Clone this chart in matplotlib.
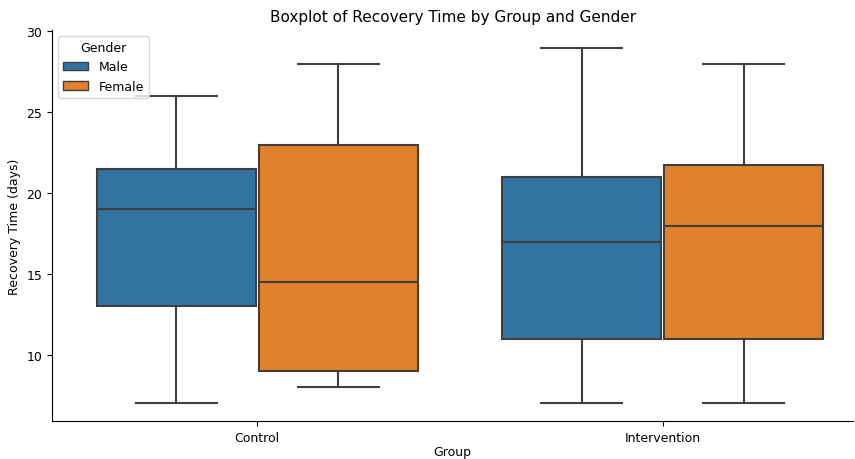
import matplotlib
matplotlib.use("Agg")
import matplotlib.pyplot as plt
from matplotlib.patches import Patch

groups = ["Control", "Intervention"]
genders = ["Male", "Female"]
colors = ["#3274a1", "#e1812c"]

# five-number summaries: low whisker, Q1, median, Q3, high whisker
male_stats = [(7, 13, 19, 21.5, 26), (7, 11, 17, 21, 29)]
female_stats = [(8, 9, 14.5, 23, 28), (7, 11, 18, 21.75, 28)]

fig = plt.figure(figsize=(8.55, 4.6), dpi=100)
ax = fig.add_axes([0.061, 0.082, 0.937, 0.851])

line_col = "#3f3f3f"
width = 0.4
for gi, stats in enumerate([male_stats, female_stats]):
    offset = -0.2 if gi == 0 else 0.2
    bxp_stats = []
    for lo, q1, med, q3, hi in stats:
        bxp_stats.append(dict(whislo=lo, q1=q1, med=med, q3=q3, whishi=hi, fliers=[]))
    positions = [i + offset for i in range(len(groups))]
    ax.bxp(bxp_stats, positions=positions, widths=width * 0.98, patch_artist=True,
           showfliers=False, manage_ticks=False,
           boxprops=dict(facecolor=colors[gi], edgecolor=line_col, linewidth=1.5),
           medianprops=dict(color=line_col, linewidth=1.5),
           whiskerprops=dict(color=line_col, linewidth=1.5),
           capprops=dict(color=line_col, linewidth=1.5),
           capwidths=width / 2)

ax.set_xlim(-0.506, 1.47)
ax.set_ylim(5.9, 30.1)
ax.set_xticks(range(len(groups)))
ax.set_xticklabels(groups)
ax.set_yticks([10, 15, 20, 25, 30])
ax.spines["top"].set_visible(False)
ax.spines["right"].set_visible(False)
ax.tick_params(labelsize=9)

ax.set_title("Boxplot of Recovery Time by Group and Gender", fontsize=11)
ax.set_xlabel("Group", fontsize=9, labelpad=1)
ax.set_ylabel("Recovery Time (days)", fontsize=9)

handles = [Patch(facecolor=c, edgecolor=line_col, label=g) for c, g in zip(colors, genders)]
ax.legend(handles=handles, title="Gender", loc="upper left", fontsize=9, title_fontsize=9)

fig.savefig("out.png", dpi=100)
